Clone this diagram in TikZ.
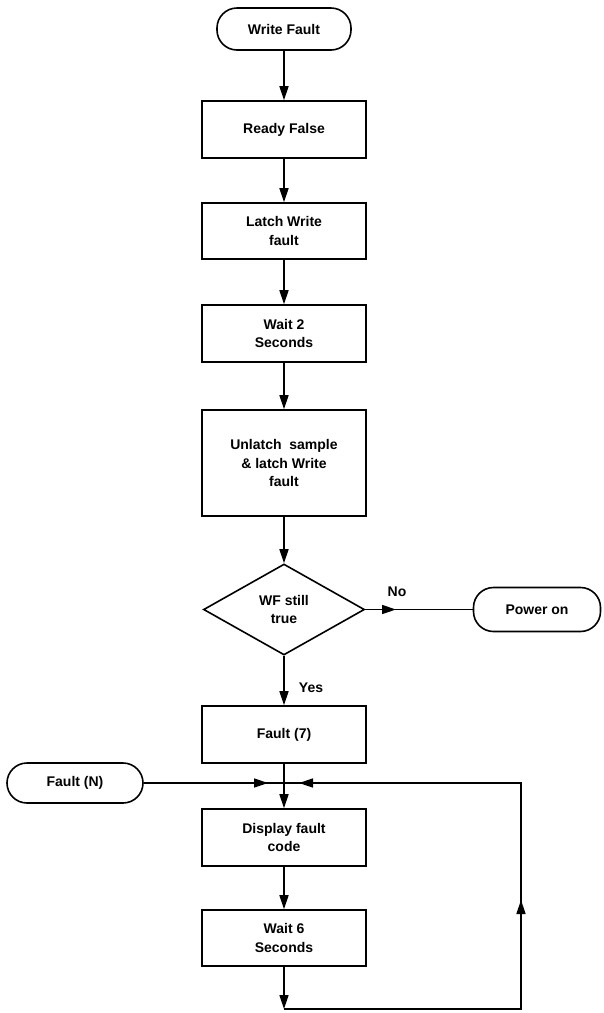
\documentclass[tikz,border=0pt]{standalone}
\usepackage{fontspec}
\setmainfont{Liberation Sans}
\usetikzlibrary{arrows.meta,shapes.geometric}
\begin{document}
\begin{tikzpicture}[x=1pt,y=-1pt,
  line width=1.6pt,
  every node/.style={font=\bfseries\fontsize{14}{18.5}\selectfont, align=center, inner sep=0pt},
  box/.style={draw, rectangle, minimum width=164pt, minimum height=57pt},
  term/.style={draw, rectangle, rounded corners=20pt, minimum height=42pt},
  dec/.style={draw, diamond, aspect=1.77, minimum width=161pt, minimum height=91pt},
  arr/.style={-{Triangle[length=14pt,width=9pt]}},
  lbl/.style={font=\bfseries\fontsize{14}{17}\selectfont}]
\useasboundingbox (0,0) rectangle (604,1013);

\node[term, minimum width=134pt] (wf) at (284,29) {Write Fault};
\node[box] (ready) at (284,129.5) {Ready False};
\node[box, minimum height=56pt] (latch) at (284,231) {Latch Write\\fault};
\node[box] (wait2) at (284,333.5) {Wait 2\\Seconds};
\node[box, minimum height=106pt] (unlatch) at (284,463) {Unlatch\ \ sample\\\&\ latch Write\\fault};
\node[dec] (dec) at (284,609.5) {WF still\\true};
\node[term, minimum width=127pt, minimum height=44pt] (power) at (537,609.5) {Power on};
\node[box] (fault7) at (284,734.5) {Fault (7)};
\node[term, minimum width=136pt, minimum height=40pt] (faultN) at (75,783) {Fault (N)};
\node[box] (display) at (284,837.5) {Display fault\\code};
\node[box, minimum height=56pt] (wait6) at (284,938) {Wait 6\\Seconds};

\node[lbl] (no) at (397,592) {No};
\node[lbl] (yes) at (311,688) {Yes};

\coordinate (j) at (284,783);
\coordinate (jl) at (268,783);
\coordinate (jr) at (299,783);
\coordinate (notip) at (396,609.5);
\coordinate (c1) at (284,1009);
\coordinate (c2) at (521,1009);
\coordinate (c3) at (521,783);
\coordinate (uptip) at (521,900);

\draw[arr] (wf) -- (ready);
\draw[arr] (ready) -- (latch);
\draw[arr] (latch) -- (wait2);
\draw[arr] (wait2) -- (unlatch);
\draw[arr] (unlatch) -- (dec);
\draw (dec.east) -- (power.west);
\draw[arr] (dec.east) -- (notip);
\draw[arr] (dec.south) -- (fault7);
\draw (fault7) -- (j);
\draw[arr] (j) -- (display);
\draw (faultN.east) -- (j);
\draw[arr] (faultN.east) -- (jl);
\draw[arr] (display) -- (wait6);
\draw[arr] (wait6) -- (c1);
\draw (c1) -- (c2) -- (c3) -- (j);
\draw[arr] (c2) -- (uptip);
\draw[arr] (c3) -- (jr);
\end{tikzpicture}
\end{document}
